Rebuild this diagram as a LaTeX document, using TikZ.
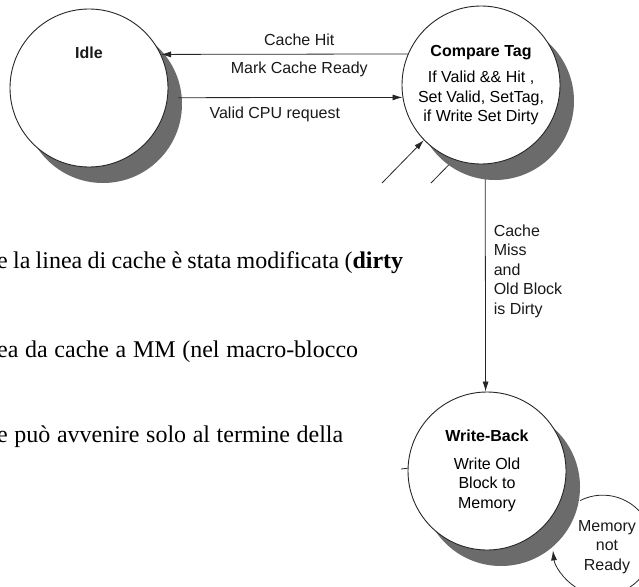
\documentclass[tikz,border=0pt]{standalone}
\usepackage{fontspec}
\setmainfont{Liberation Serif}
\setsansfont{Liberation Sans}
\usetikzlibrary{arrows.meta,shadows,backgrounds}

\begin{document}
\begin{tikzpicture}[
    x=1pt, y=-1pt,
    state/.style={circle, draw=black!85, line width=0.9pt, fill=white, minimum size=158pt, inner sep=0pt, align=center,
        font=\sffamily\fontsize{16}{19.5}\selectfont,
        drop shadow={shadow xshift=14pt, shadow yshift=-16pt, fill=black!58, draw=none, opacity=1}},
    arrow/.style={-{Latex[length=10pt,width=6pt]}, line width=0.8pt, black!85},
    lbl/.style={font=\sffamily\fontsize{16}{19.5}\selectfont, inner sep=0pt, text=black!90},
    slide/.style={anchor=base west, inner sep=0pt, font=\fontsize{24}{28}\selectfont},
]
    \useasboundingbox (0,0) rectangle (639,586);
    \clip (0,0) rectangle (639,586);

    % states
    \node[state] (idle) at (89,88) {};
    \node[lbl, font=\sffamily\bfseries\fontsize{16}{19.5}\selectfont] (idlename) at ([yshift=35pt]idle.center) {Idle};
    \node[state] (ct) at (481,85) {\textbf{Compare Tag}\\[7pt]If Valid \&\& Hit ,\\Set Valid, SetTag,\\if Write Set Dirty};
    \node[state] (wb) at (487,471) {\textbf{Write-Back}\\[8pt]Write Old\\Block to\\Memory};

    % transitions
    \draw[arrow] (ct.157) -- node[lbl, above=8pt, pos=0.44] (hit) {Cache Hit}
        node[lbl, below=7pt, pos=0.44] (ready) {Mark Cache Ready} (idle.25.5);
    \draw[arrow] ([xshift=10.6pt]idle.-7.5) -- node[lbl, below=9pt, pos=0.43] (cpureq) {Valid CPU request} (ct.189.5);

    \coordinate (fromalloc) at (382,183);
    \coordinate (toalloc) at (431,183);
    \coordinate (wbstub) at (401,469);
    \draw[arrow] (fromalloc) -- (ct.224.5);
    \draw[line width=0.8pt, black!85] (wb.178.5) -- (wbstub);

    \begin{pgfonlayer}{background}
        \draw[line width=0.8pt, black!85] (ct.250.4) -- (toalloc);
        \draw[arrow] (ct.-87) -- node[lbl, right=8pt, pos=0.47, align=left] (miss) {Cache\\Miss\\and\\Old Block\\is Dirty} (wb.91.5);
    \end{pgfonlayer}

    % memory not ready loop
    \coordinate (loopstart) at (580,500.6);
    \draw[arrow] (loopstart) arc[start angle=-117, end angle=174, radius=50];
    \node[lbl, align=center] (notready) at (607,547) {Memory\\not\\Ready};

    % slide text
    \node[slide] (line1) at (-3,268) {\makebox[406pt][s]{e la linea di cache è stata modificata (\textbf{dirty}}};
    \node[slide] (line2) at (-3,357) {\makebox[361pt][s]{ea da cache a MM (nel macro-blocco}};
    \node[slide] (line3) at (-3,442) {\makebox[346pt][s]{e può avvenire solo al termine della}};
\end{tikzpicture}
\end{document}
